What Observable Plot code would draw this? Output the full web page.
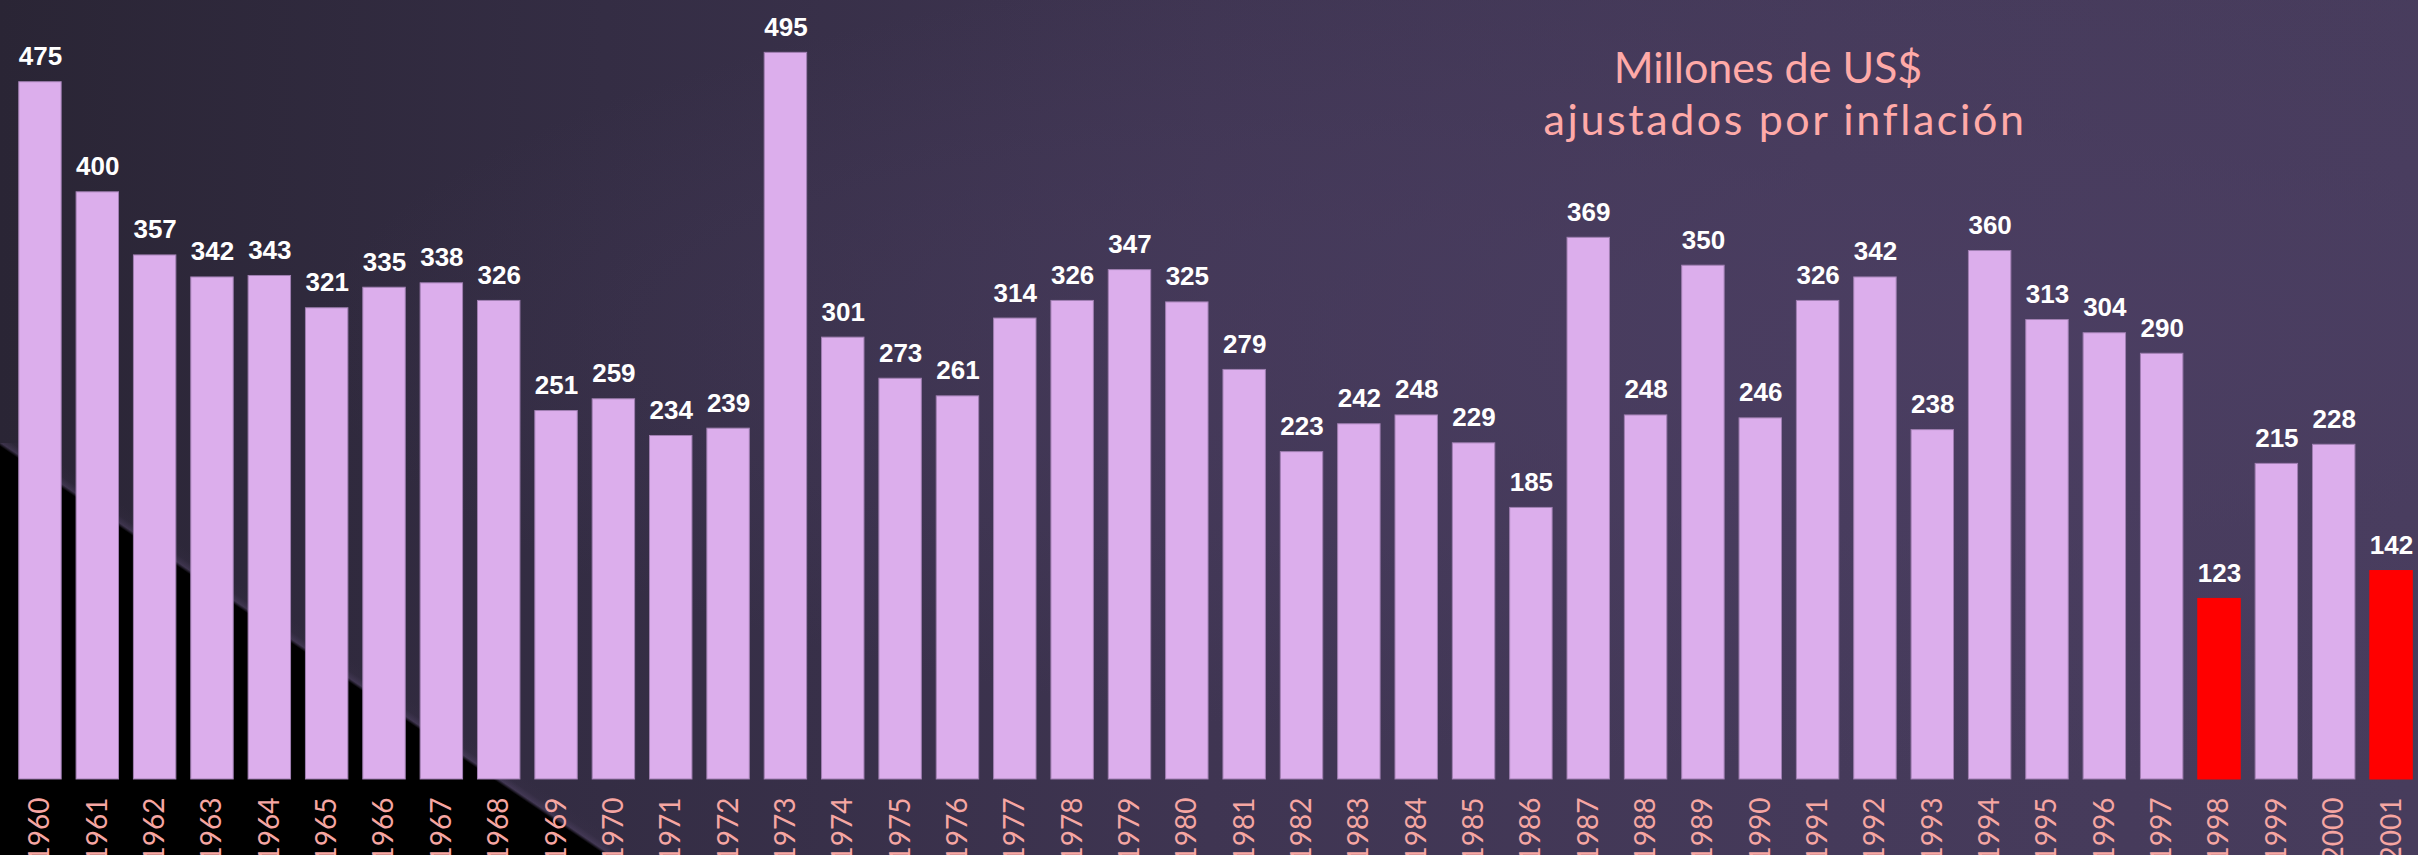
<!DOCTYPE html>
<html>
<head>
<meta charset="utf-8">
<script src="https://cdn.jsdelivr.net/npm/d3@7"></script>
<script src="https://cdn.jsdelivr.net/npm/@observablehq/plot@0.6"></script>
<style>
  html, body { margin: 0; padding: 0; overflow: hidden; }
  body {
    width: 2418px; height: 855px; position: relative;
    background:
      linear-gradient(to top right, #000 49.6%, rgba(85,70,105,0.45) 50.1%, rgba(60,50,75,0.15) 51%, rgba(0,0,0,0) 52.5%) left bottom / 610px 412px no-repeat,
      radial-gradient(ellipse at 85% 40%, rgba(75,62,98,0.9) 0%, rgba(75,62,98,0) 60%),
      linear-gradient(to right, #2a2535 0%, #342d44 25%, #3f3552 50%, #453a5a 75%, #473c5c 100%);
  }
  #title {
    position: absolute; left: 1468px; width: 600px; top: 41px;
    text-align: center; color: #ffaaa8;
    font-family: Lato, "Open Sans", sans-serif; font-size: 43px; line-height: 52px;
  }
  #title .l2 { letter-spacing: 2.6px; position: relative; left: 17px; }
  #chart { position: absolute; left: 0; top: 0; }
</style>
</head>
<body>
<div id="chart"></div>
<div id="title"><span>Millones de US$</span><br><span class="l2">ajustados por inflación</span></div>
<script>
const years = ["1960","1961","1962","1963","1964","1965","1966","1967","1968","1969",
  "1970","1971","1972","1973","1974","1975","1976","1977","1978","1979",
  "1980","1981","1982","1983","1984","1985","1986","1987","1988","1989",
  "1990","1991","1992","1993","1994","1995","1996","1997","1998","1999",
  "2000","2001"];
const values = [475,400,357,342,343,321,335,338,326,251,
  259,234,239,495,301,273,261,314,326,347,
  325,279,223,242,248,229,185,369,248,350,
  246,326,342,238,360,313,304,290,123,215,
  228,142];
const highlightYears = ["1998","2001"];

const data = years.map((y, i) => ({year: y, value: values[i], hi: highlightYears.includes(y)}));

const chart = Plot.plot({
  width: 2418,
  height: 855,
  marginLeft: 13,
  marginRight: 0,
  marginTop: 45,
  marginBottom: 76,
  style: {background: "transparent", overflow: "hidden"},
  x: {type: "band", domain: years, paddingInner: 0.26, paddingOuter: 0.1, round: false, axis: null},
  y: {domain: [0, 500], axis: null},
  marks: [
    Plot.barY(data, {
      x: "year", y: "value",
      fill: d => d.hi ? "#ff0000" : "#dcaeec",
      stroke: d => d.hi ? "#ff0000" : "#a07fb2",
      strokeWidth: 1
    }),
    Plot.text(data, {
      x: "year", y: "value", text: d => String(d.value),
      dy: -17, lineAnchor: "bottom",
      fill: "#ffffff", fontSize: 26, fontWeight: "bold",
      fontFamily: "Liberation Sans, Arial, sans-serif"
    }),
    Plot.text(data, {
      x: "year", y: 0, text: "year",
      rotate: -90, textAnchor: "end", lineAnchor: "middle",
      dy: 18,
      fill: "#f6a6a2", fontSize: 28,
      fontFamily: "Lato, 'Open Sans', sans-serif"
    })
  ]
});
document.getElementById("chart").appendChild(chart);
</script>
</body>
</html>
